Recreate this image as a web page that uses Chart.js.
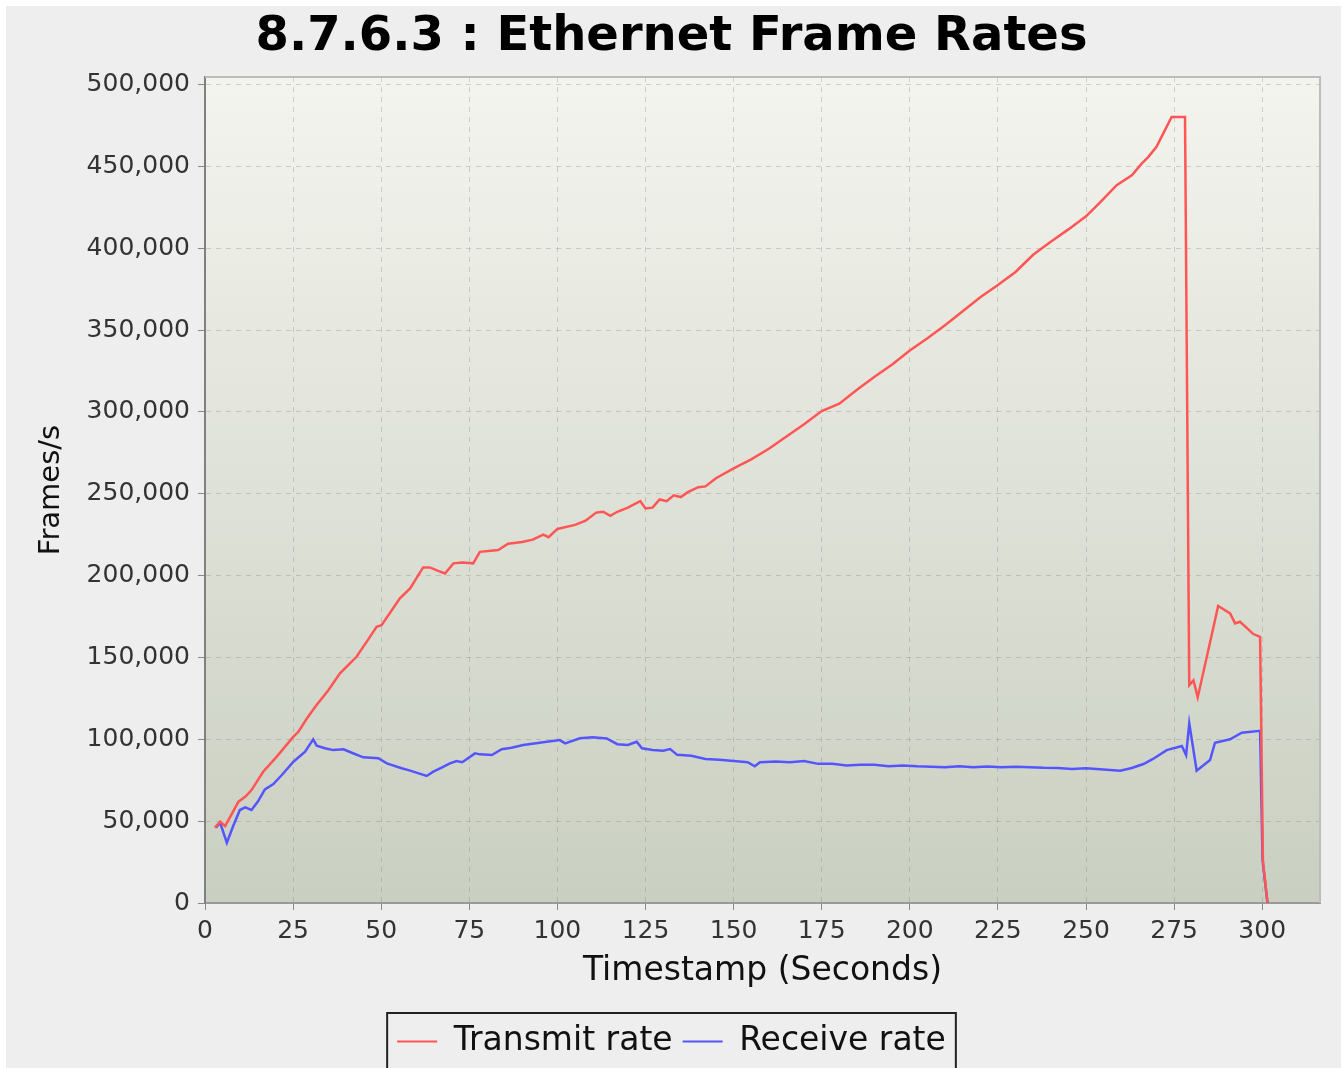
<!DOCTYPE html>
<html lang="en">
<head>
<meta charset="UTF-8">
<title>8.7.6.3 : Ethernet Frame Rates</title>
<script src="https://cdn.jsdelivr.net/npm/chart.js"></script>
<style>
  html, body { margin: 0; padding: 0; background: #ffffff; }
  canvas { display: block; }
</style>
</head>
<body>
<canvas id="rateChart" width="1343" height="1068"></canvas>
<script>
// Transmit rate (frames/s) against timestamp (s)
const txTime = [2.8, 4.3, 5.7, 7.5, 9.5, 11.4, 13.2, 16.5, 20.3, 25.1, 26.5, 29, 31.5, 35, 38.3, 43, 46, 48.7, 50.1,
  55.3, 58.2, 61.9, 63.8, 66, 68.1, 70.5, 73, 76.1, 78, 83.2, 86, 90, 93, 96, 97.5, 100, 105, 108, 111, 113, 115,
  117, 120, 123.5, 125, 127, 129, 131, 133, 135, 137, 140, 142, 145, 150, 155, 160, 165, 170, 175, 180, 185, 190,
  195, 200, 205, 210, 215, 220, 225, 230, 235, 240, 245, 250, 254, 258.7, 263, 265.8, 267.7, 270, 271.9, 274.3,
  278.1, 279.3, 280.5, 281.7, 287.5, 290.9, 292.3, 293.7, 297.5, 299.4, 300.2, 301.5];
const txRate = [46000, 49600, 47000, 54000, 61900, 64900, 69000, 80200, 89300, 101600, 104600, 113000, 120500,
  130000, 140300, 150400, 160000, 168700, 169700, 186100, 192200, 205000, 205000, 203000, 201300, 207500, 208000,
  207500, 214500, 215600, 219500, 220500, 222000, 225000, 223500, 228500, 231000, 233500, 238500, 239000, 236500,
  239000, 241500, 245500, 241000, 241500, 246500, 245500, 249000, 248000, 251000, 254000, 254500, 259500, 265500,
  271000, 277500, 285000, 292500, 300500, 305000, 313500, 321500, 329000, 337500, 345000, 353000, 361500, 370000,
  377500, 385500, 396000, 404000, 411500, 419500, 428000, 438500, 444600, 451700, 455800, 462000, 470000, 480200,
  480200, 133100, 136000, 125600, 181400, 176900, 170800, 171800, 164300, 162600, 26000, 0];

// Receive rate (frames/s) against timestamp (s)
const rxTime = [3.1, 4.3, 6.2, 8, 9.9, 11.4, 13.2, 15, 17, 19.4, 21.8, 25.1, 28.4, 30.7, 31.7, 34, 36.4, 39.3, 42,
  44.9, 49.2, 51.6, 55.8, 58, 62.9, 64.8, 67, 69.5, 71.4, 73, 76.6, 78, 81.4, 84.2, 87, 90.3, 97, 100.7, 102.2,
  106.4, 110, 114, 117, 120, 122.5, 124, 127, 130, 132, 134, 138, 142, 146, 150, 154, 156, 157.5, 162, 166, 170,
  174, 178, 182, 186, 190, 194, 198, 202, 206, 210, 214, 218, 222, 226, 230, 234, 238, 242, 246, 250, 254, 259.7,
  263, 266.3, 269, 272.9, 277.2, 278.4, 279.3, 281.4, 285.2, 286.6, 290.9, 294.2, 299.4, 300.1, 301.5];
const rxRate = [46000, 49000, 36800, 47000, 56800, 58400, 56800, 62000, 69400, 72700, 78200, 86300, 92400, 100000,
  96100, 94500, 93400, 93900, 91500, 89000, 88400, 85300, 82300, 81000, 77600, 80200, 82500, 85300, 86700, 86000,
  91400, 90800, 90400, 93900, 94800, 96500, 98500, 99500, 97500, 100600, 101200, 100500, 97000, 96500, 98500,
  94500, 93500, 93000, 94000, 90500, 90000, 88000, 87500, 86800, 86000, 83500, 86000, 86500, 86000, 86700, 85000,
  85000, 84000, 84500, 84500, 83500, 84000, 83500, 83200, 83000, 83600, 83000, 83400, 83000, 83300, 83000, 82600,
  82500, 81800, 82300, 81700, 80800, 82500, 84900, 88000, 93400, 95900, 90400, 109700, 80800, 87300, 97900,
  100000, 104000, 105200, 26000, 0];

const seriesNames = ['Transmit rate', 'Receive rate'];
const seriesColors = ['#ff5555', '#5555ff'];

// axis ranges and tick values
const xMax = 316.4, xStep = 25;
const yMax = 504600;
const yTickValues = [0, 50000, 100000, 150000, 200000, 250000, 300000, 350000, 400000, 450000, 500000];

const toPoints = (xs, ys) => xs.map((x, i) => ({x: x, y: ys[i]}));

Chart.defaults.font.family = '"DejaVu Sans", sans-serif';

const plotFrame = {
  id: 'plotFrame',
  beforeDraw(chart) {
    const {ctx, width, height, chartArea: a} = chart;
    ctx.save();
    ctx.fillStyle = '#ffffff';
    ctx.fillRect(0, 0, width, height);
    ctx.fillStyle = '#eeeeee';
    ctx.fillRect(6, 6, 1335, height - 6);
    const g = ctx.createLinearGradient(0, a.top, 0, a.bottom);
    g.addColorStop(0, '#f4f4ee');
    g.addColorStop(1, '#c9cfc1');
    ctx.fillStyle = g;
    ctx.fillRect(a.left, a.top, a.right - a.left, a.bottom - a.top);
    ctx.restore();
  },
  beforeDatasetsDraw(chart) {
    const {ctx, chartArea: a} = chart;
    ctx.save();
    ctx.strokeStyle = '#bcbcbc';
    ctx.lineWidth = 2;
    ctx.beginPath();
    ctx.moveTo(a.left, a.top);
    ctx.lineTo(a.right, a.top);
    ctx.lineTo(a.right, a.bottom);
    ctx.stroke();
    ctx.restore();
  },
  afterDraw(chart) {
    // box round the legend, like the original
    const boxes = chart.legend.legendHitBoxes;
    if (!boxes.length) return;
    const first = boxes[0], last = boxes[boxes.length - 1];
    const left = first.left - 10;
    const right = last.left + last.width + 10;
    const top = first.top - 12;
    const ctx = chart.ctx;
    ctx.save();
    ctx.strokeStyle = '#222222';
    ctx.lineWidth = 2;
    ctx.strokeRect(left, top, right - left, 120);
    ctx.restore();
  }
};

new Chart(document.getElementById('rateChart'), {
  type: 'line',
  data: {
    datasets: [
      {
        label: seriesNames[0],
        data: toPoints(txTime, txRate),
        borderColor: seriesColors[0],
        backgroundColor: seriesColors[0],
        borderWidth: 2.5,
        pointRadius: 0,
        tension: 0
      },
      {
        label: seriesNames[1],
        data: toPoints(rxTime, rxRate),
        borderColor: seriesColors[1],
        backgroundColor: seriesColors[1],
        borderWidth: 2.5,
        pointRadius: 0,
        tension: 0
      }
    ]
  },
  options: {
    responsive: false,
    animation: false,
    layout: {
      padding: {left: 23, right: 23, top: 0, bottom: 0}
    },
    scales: {
      x: {
        type: 'linear',
        min: 0,
        max: xMax,
        afterFit: s => { s.height = 112; },
        ticks: {
          stepSize: xStep,
          includeBounds: false,
          maxRotation: 0,
          padding: 6,
          color: '#333333',
          font: {size: 25}
        },
        grid: {
          color: 'rgba(128,128,128,0.32)',
          tickLength: 7,
          tickColor: '#888888',
          tickBorderDash: []
        },
        border: {color: '#999999', width: 2, dash: [5, 5]},
        title: {
          display: true,
          text: 'Timestamp (Seconds)',
          color: '#111111',
          font: {size: 33},
          padding: {top: 0, bottom: 24}
        }
      },
      y: {
        min: 0,
        max: yMax,
        afterFit: s => { s.width = 182; },
        afterBuildTicks: s => { s.ticks = yTickValues.map(v => ({value: v})); },
        ticks: {
          padding: 8,
          color: '#333333',
          font: {size: 25},
          callback: v => v.toLocaleString('en-US')
        },
        grid: {
          color: 'rgba(128,128,128,0.32)',
          tickLength: 7,
          tickColor: '#888888',
          tickBorderDash: []
        },
        border: {color: '#808080', width: 2, dash: [5, 5]},
        title: {
          display: true,
          text: 'Frames/s',
          color: '#111111',
          font: {size: 29},
          padding: {top: 11, bottom: 0}
        }
      }
    },
    plugins: {
      title: {
        display: true,
        text: '8.7.6.3 : Ethernet Frame Rates',
        color: '#000000',
        font: {size: 48, weight: 'bold'},
        padding: {top: 8.6, bottom: 10.8}
      },
      legend: {
        position: 'bottom',
        labels: {
          boxWidth: 40,
          boxHeight: 2,
          padding: 10,
          color: '#111111',
          font: {size: 33},
          generateLabels: chart => Chart.defaults.plugins.legend.labels.generateLabels(chart).map(item => {
            item.fillStyle = item.strokeStyle;
            item.lineWidth = 0;
            return item;
          })
        }
      },
      tooltip: {enabled: false}
    }
  },
  plugins: [plotFrame]
});
</script>
</body>
</html>
